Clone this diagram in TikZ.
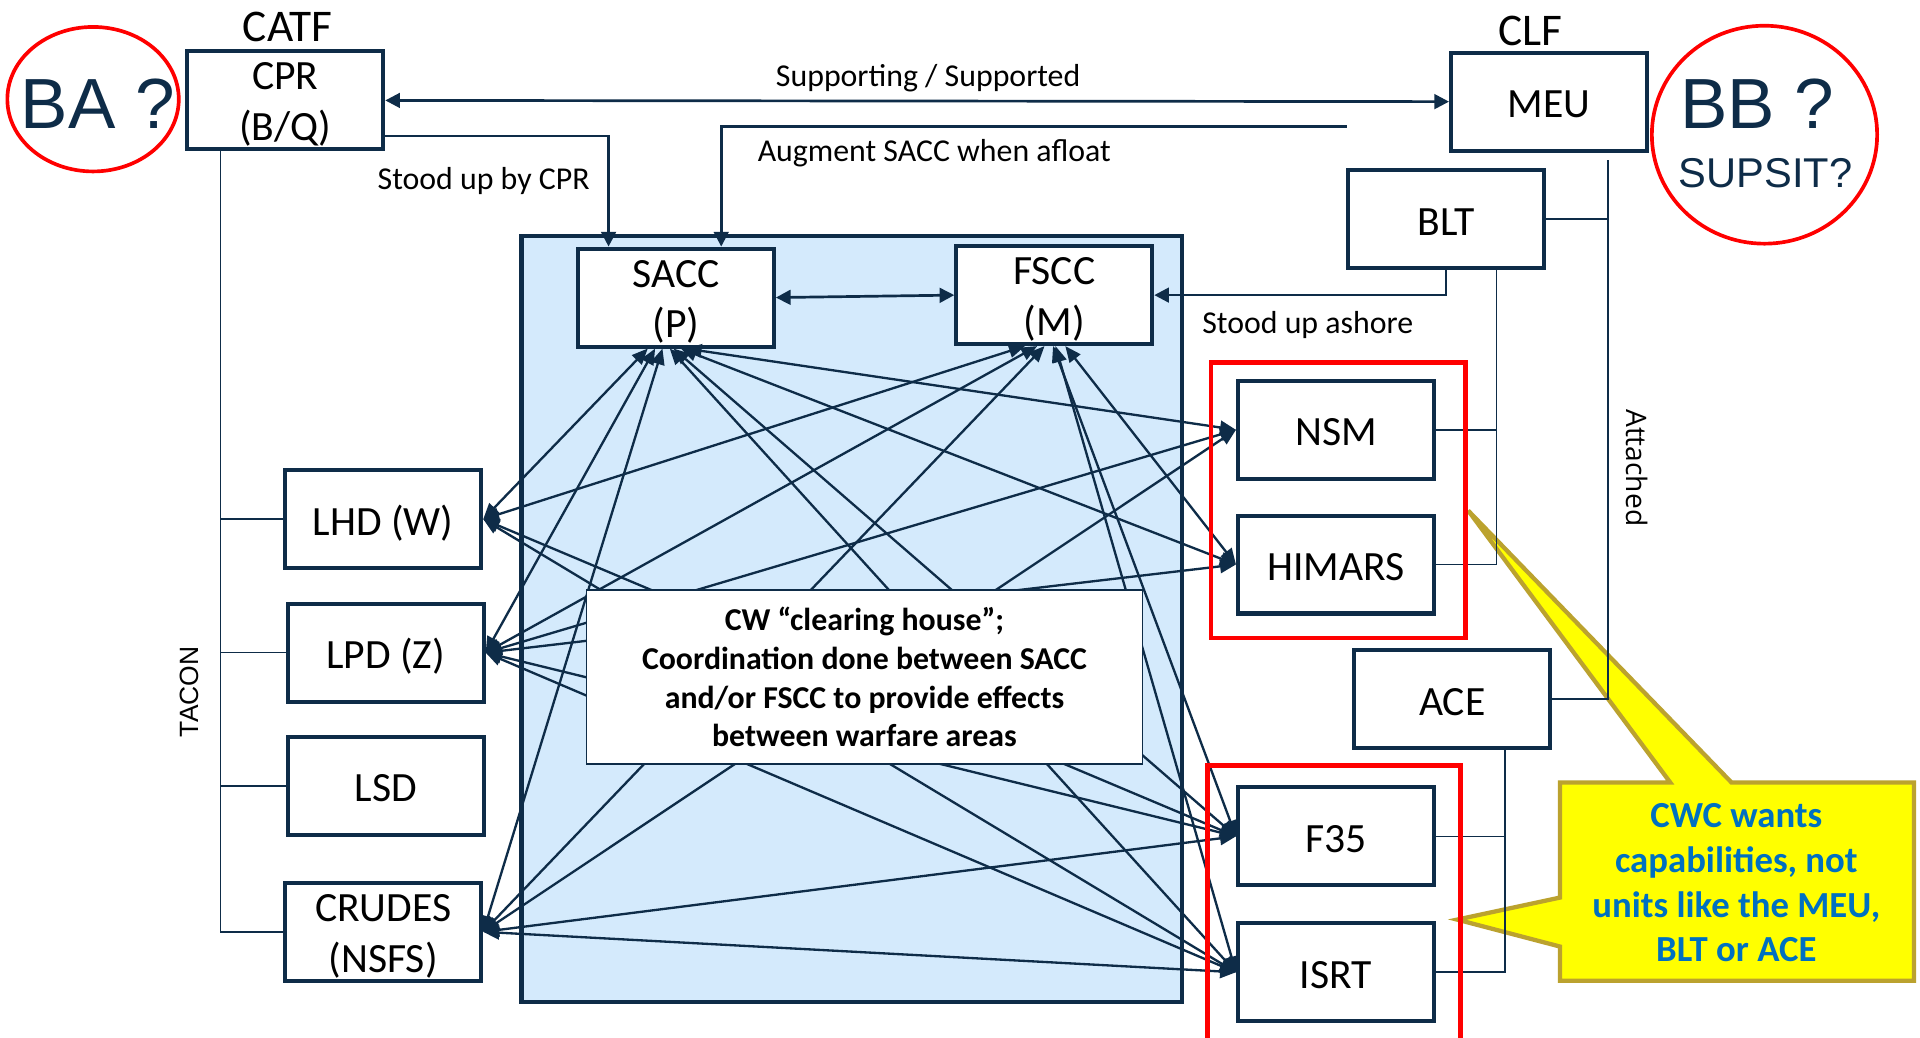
\documentclass[tikz,border=0pt]{standalone}
\usepackage{fontspec}
\setmainfont{Carlito}
\newfontfamily\arialfont{Liberation Sans}
\newfontfamily\segoefont{Open Sans}
\usetikzlibrary{arrows.meta,calc}

\definecolor{navy}{HTML}{0E2C48}
\definecolor{paleblue}{HTML}{D4EAFC}
\definecolor{calloutfill}{HTML}{FFFF00}
\definecolor{calloutedge}{HTML}{BBA22E}
\definecolor{callouttext}{HTML}{0070C0}
\definecolor{alertred}{HTML}{FF0000}

% font sizes
\newcommand\unitfont{\fontsize{17}{20.75}\selectfont}
\newcommand\headfont{\fontsize{18.5}{22}\selectfont}
\newcommand\notefont{\fontsize{13}{15.6}\selectfont}
\newcommand\hubfont{\bfseries\fontsize{13}{15.75}\selectfont}
\newcommand\calloutfont{\bfseries\fontsize{15}{18.25}\selectfont}
\newcommand\bigqfont{\arialfont\fontsize{29}{34}\selectfont}
\newcommand\supsitfont{\arialfont\fontsize{17}{20}\selectfont}
\newcommand\taconfont{\arialfont\fontsize{10.8}{13}\selectfont}
\newcommand\attachfont{\segoefont\fontsize{11.5}{14}\selectfont}

\begin{document}
\begin{tikzpicture}[x=0.5pt,y=-0.5pt,
  unitbox/.style={draw=navy, line width=1.65pt, fill=white, inner sep=0pt,
    minimum width=80pt, minimum height=40pt, align=center, font=\unitfont, text=black,
    text height=12.95pt, text depth=0pt},
  twoline/.style={align=center, font=\unitfont, text=black, inner sep=0pt},
  thinline/.style={draw=navy, line width=0.65pt},
  conn/.style={draw=navy, line width=1.1pt},
  tipend/.style={-{Triangle[length=6pt,width=6pt]}},
  tipboth/.style={{Triangle[length=6pt,width=6pt]}-{Triangle[length=6pt,width=6pt]}},
  mesh/.style={draw=navy, line width=0.95pt,
    {Triangle[length=6.5pt,width=5.5pt]}-{Triangle[length=6.5pt,width=5.5pt]}},
  note/.style={font=\notefont, text=black, inner sep=0pt, anchor=base},
  redline/.style={draw=alertred, line width=2pt},
]
\useasboundingbox (0,0) rectangle (1568,847);
\fill[white] (0,0) rectangle (1568,847);

% coordination area
\draw[fill=paleblue, draw=navy, line width=1.75pt] (426,193) rectangle (965,818);

% units
\node[unitbox] (CPR) at (233,82) {};
\node[twoline] (CPRtxt) at ($(CPR.center)+(0,3.5)$) {CPR\\(B/Q)};
\node[unitbox] (MEU) at (1265,83) {MEU};
\node[unitbox] (BLT) at (1181,179) {BLT};
\node[unitbox] (SACC) at (552,243) {};
\node[twoline] (SACCtxt) at ($(SACC.center)+(0,3.5)$) {SACC\\(P)};
\node[unitbox] (FSCC) at (861,241) {};
\node[twoline] (FSCCtxt) at ($(FSCC.center)+(0,3.5)$) {FSCC\\(M)};
\node[unitbox] (NSM) at (1091,351) {NSM};
\node[unitbox] (HIMARS) at (1091,461) {HIMARS};
\node[unitbox] (ACE) at (1186,571) {ACE};
\node[unitbox] (F35) at (1091,683) {F35};
\node[unitbox] (ISRT) at (1091,794) {ISRT};
\node[unitbox] (LHD) at (313,424) {LHD (W)};
\node[unitbox] (LPD) at (315,533) {LPD (Z)};
\node[unitbox] (LSD) at (315,642) {LSD};
\node[unitbox] (CRUDES) at (313,761) {};
\node[twoline] (CRUDEStxt) at ($(CRUDES.center)+(0,3.5)$) {CRUDES\\(NSFS)};

% mesh of coordination links
\draw[mesh] ($(SACC.south)+(-23,0)$) -- (LHD.east);
\draw[mesh] ($(SACC.south)+(-17,0)$) -- (LPD.east);
\draw[mesh] ($(SACC.south)+(-11,0)$) -- (CRUDES.east);
\draw[mesh] ($(SACC.south)+(8,0)$) -- (NSM.west);
\draw[mesh] ($(SACC.south)+(4,0)$) -- (HIMARS.west);
\draw[mesh] ($(SACC.south)+(-2,0)$) -- (F35.west);
\draw[mesh] ($(SACC.south)+(-5,0)$) -- (ISRT.west);
\draw[mesh] ($(FSCC.south)+(-24,0)$) -- (LHD.east);
\draw[mesh] ($(FSCC.south)+(-14,0)$) -- (LPD.east);
\draw[mesh] ($(FSCC.south)+(-8,0)$) -- (CRUDES.east);
\draw[mesh] ($(FSCC.south)+(9,0)$) -- (HIMARS.west);
\draw[mesh] ($(FSCC.south)+(-1,0)$) -- (F35.west);
\draw[mesh] ($(FSCC.south)+(1,0)$) -- (ISRT.west);
\foreach \t in {F35,ISRT} {\draw[mesh] (LHD.east) -- (\t.west);}
\foreach \t in {NSM,HIMARS,F35,ISRT} {\draw[mesh] (LPD.east) -- (\t.west);}
\foreach \t in {NSM,F35,ISRT} {\draw[mesh] (CRUDES.east) -- (\t.west);}

% clearing house note
\node[draw=navy, line width=0.6pt, fill=white, minimum width=227pt, minimum height=71pt,
  inner sep=0pt, align=center, font=\hubfont] (hub) at (706,553)
  {CW “clearing house”;\\Coordination done between SACC\\and/or FSCC to provide effects\\between warfare areas};

% command relationships
\draw[conn, tipboth] (CPR.east) -- (MEU.west);
\node[note] (lblsup) at (758,71) {Supporting / Supported};
\draw[conn, tipend] ($(CPR.east)+(0,29)$) -| (SACC.north -| 497,0);
\node[note] (lblcpr) at (395,155) {Stood up by CPR};
\coordinate (augstart) at (1100,103.5);
\draw[conn, tipend] (augstart) -| (SACC.north -| 589,0);
\node[note] (lblaug) at (763,132) {Augment SACC when afloat};
\draw[conn, tipboth] (SACC.east) -- (FSCC.west);
\draw[conn, tipend] (BLT.south) |- (FSCC.east);
\node[note] (lblash) at (1068,272) {Stood up ashore};

% headers
\node[font=\headfont, anchor=base, inner sep=0pt] (catf) at (235,34) {CATF};
\node[font=\headfont, anchor=base, inner sep=0pt] (clf) at (1250,37) {CLF};

% callout
\draw[fill=calloutfill, draw=calloutedge, line width=1.75pt, line join=miter]
  (1274,639) -- (1364,639) -- (1199,417) -- (1414,639) -- (1563,639) -- (1563,801)
  -- (1274,801) -- (1274,773) -- (1190,751) -- (1274,733) -- cycle;
\node[font=\calloutfont, text=callouttext, align=center, inner sep=0pt] (cwc) at (1418,721)
  {CWC wants\\capabilities, not\\units like the MEU,\\BLT or ACE};

% TACON tree
\coordinate (tacbus) at (180,0);
\draw[thinline] (CPR.south -| tacbus) |- (CRUDES.west);
\foreach \t in {LHD,LPD,LSD} {\draw[thinline] (\t.west) -- (\t.west -| tacbus);}
\node[font=\taconfont, rotate=90, inner sep=0pt] (tacon) at (155,565) {TACON};

% MEU attachments
\coordinate (attTop) at (1313,131);
\draw[thinline] (attTop) |- (ACE.east);
\draw[thinline] (BLT.east) -- (BLT.east -| attTop);
\coordinate (bltbus) at (1222,0);
\draw[thinline] (BLT.south -| bltbus) |- (HIMARS.east);
\draw[thinline] (NSM.east) -- (NSM.east -| bltbus);
\coordinate (acebus) at (1229,0);
\draw[thinline] (ACE.south -| acebus) |- (ISRT.east);
\draw[thinline] (F35.east) -- (F35.east -| acebus);
\node[font=\attachfont, rotate=-90, inner sep=0pt] (attached) at (1337,382) {Attached};

% capability groupings
\draw[redline] (989,296) rectangle (1197,521);
\draw[redline] (986,870) -- (986,625) -- (1193,625) -- (1193,870);

% open questions
\draw[alertred, line width=1.5pt] (76,81) ellipse [x radius=70, y radius=59];
\node[font=\bigqfont, text=navy, anchor=base, inner sep=0pt] (ba) at (80,105) {BA ?};
\draw[alertred, line width=1.5pt] (1441,110) ellipse [x radius=92, y radius=89];
\node[font=\bigqfont, text=navy, anchor=base, inner sep=0pt] (bb) at (1435,105) {BB ?};
\node[font=\supsitfont, text=navy, anchor=base, inner sep=0pt] (supsit) at (1442,153) {SUPSIT?};
\end{tikzpicture}
\end{document}
